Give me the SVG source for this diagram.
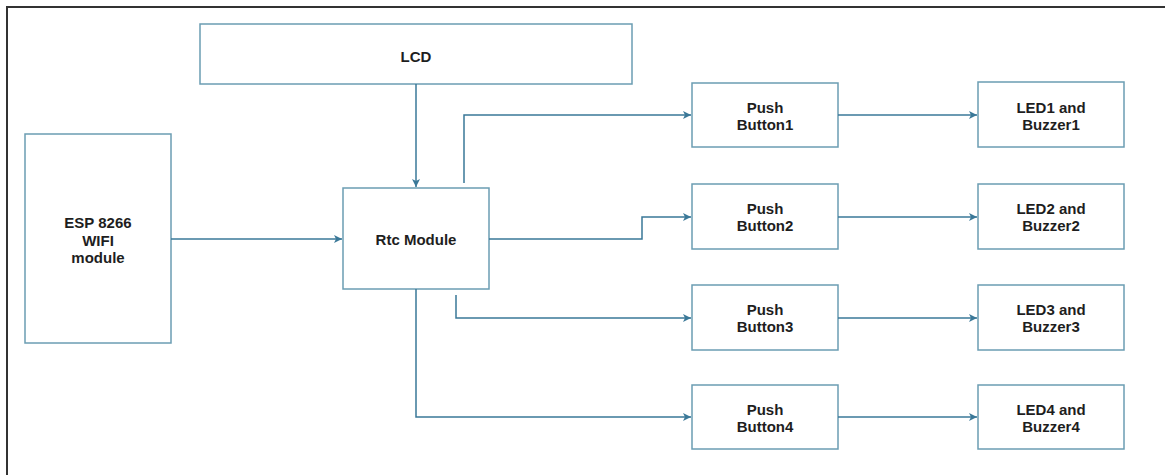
<svg xmlns="http://www.w3.org/2000/svg" width="1165" height="475" viewBox="0 0 1165 475">
  <defs>
    <marker id="arr" viewBox="0 0 10 10" refX="10" refY="5" markerWidth="9" markerHeight="8" markerUnits="userSpaceOnUse" orient="auto">
      <path d="M0,0 L10,5 L0,10 L2.5,5 Z" fill="#3a7898"/>
    </marker>
  </defs>
  <style>
    .box { fill: #ffffff; stroke: #6b9db3; stroke-width: 1.5; }
    .lbl { font-family: "Liberation Sans", Arial, sans-serif; font-weight: bold; font-size: 15px; fill: #1e1e1e; text-anchor: middle; }
    .con { fill: none; stroke: #3a7898; stroke-width: 1.5; marker-end: url(#arr); }
    .frame { stroke: #333333; stroke-width: 2; fill: none; }
  </style>
  <rect x="0" y="0" width="1165" height="475" fill="#ffffff"/>
  <path class="frame" d="M7,475 V7 H1165"/>

  <g id="lcd">
    <rect class="box" x="200" y="24" width="432" height="60"/>
    <text class="lbl" x="416" y="62">LCD</text>
  </g>
  <g id="esp">
    <rect class="box" x="25" y="134" width="146" height="209"/>
    <text class="lbl" x="98" y="228">ESP 8266</text>
    <text class="lbl" x="98" y="246">WIFI</text>
    <text class="lbl" x="98" y="263">module</text>
  </g>
  <g id="rtc">
    <rect class="box" x="343" y="188" width="146" height="101"/>
    <text class="lbl" x="416" y="245">Rtc Module</text>
  </g>
  <g id="pb1">
    <rect class="box" x="692" y="83" width="146" height="64"/>
    <text class="lbl" x="765" y="113">Push</text>
    <text class="lbl" x="765" y="130">Button1</text>
  </g>
  <g id="pb2">
    <rect class="box" x="692" y="184" width="146" height="65"/>
    <text class="lbl" x="765" y="214">Push</text>
    <text class="lbl" x="765" y="231">Button2</text>
  </g>
  <g id="pb3">
    <rect class="box" x="692" y="285" width="146" height="65"/>
    <text class="lbl" x="765" y="315">Push</text>
    <text class="lbl" x="765" y="332">Button3</text>
  </g>
  <g id="pb4">
    <rect class="box" x="692" y="385" width="146" height="64"/>
    <text class="lbl" x="765" y="415">Push</text>
    <text class="lbl" x="765" y="432">Button4</text>
  </g>
  <g id="led1">
    <rect class="box" x="978" y="82" width="146" height="65"/>
    <text class="lbl" x="1051" y="113">LED1 and</text>
    <text class="lbl" x="1051" y="130">Buzzer1</text>
  </g>
  <g id="led2">
    <rect class="box" x="978" y="184" width="146" height="65"/>
    <text class="lbl" x="1051" y="214">LED2 and</text>
    <text class="lbl" x="1051" y="231">Buzzer2</text>
  </g>
  <g id="led3">
    <rect class="box" x="978" y="285" width="146" height="65"/>
    <text class="lbl" x="1051" y="315">LED3 and</text>
    <text class="lbl" x="1051" y="332">Buzzer3</text>
  </g>
  <g id="led4">
    <rect class="box" x="978" y="385" width="146" height="64"/>
    <text class="lbl" x="1051" y="415">LED4 and</text>
    <text class="lbl" x="1051" y="432">Buzzer4</text>
  </g>

  <g id="connectors">
    <path class="con" d="M416,84 V187"/>
    <path class="con" d="M171,239 H342"/>
    <path class="con" d="M464,183 V115 H691"/>
    <path class="con" d="M489,239 H642 V217 H691"/>
    <path class="con" d="M456,295 V318 H691"/>
    <path class="con" d="M416,289 V417 H691"/>
    <path class="con" d="M838,115 H977"/>
    <path class="con" d="M838,217 H977"/>
    <path class="con" d="M838,318 H977"/>
    <path class="con" d="M838,417 H977"/>
  </g>
</svg>
